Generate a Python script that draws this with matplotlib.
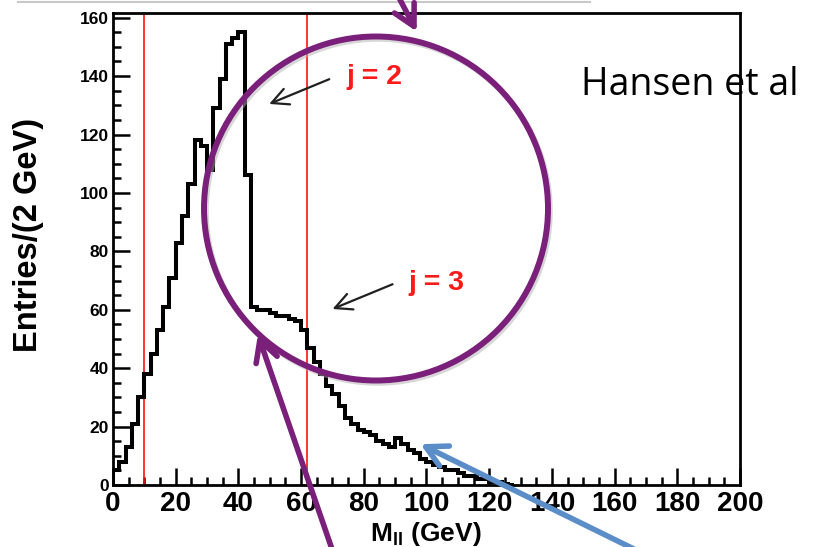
import numpy as np
import matplotlib
matplotlib.use('Agg')
import matplotlib.pyplot as plt
from matplotlib.patches import Ellipse, FancyArrowPatch
from matplotlib.lines import Line2D

# dilepton mass histogram, 2 GeV bins starting at 0
bin_width = 2
entries = [5, 8, 13, 21, 30, 38, 45, 53, 61, 71,
           83, 92, 103, 118, 116, 108, 129, 139, 151, 153,
           155, 106, 61, 60, 60, 59, 58, 58, 57, 56,
           53, 47, 42, 38, 34, 31, 27, 23, 21, 19,
           18, 17, 15, 14, 13, 16, 14, 12, 11, 9,
           8, 7, 6, 5, 5, 4, 3, 3, 2, 2,
           1, 1, 0.5, 0]
cut_lines = [10, 62]
x_ticks = list(range(0, 201, 20))
y_ticks = list(range(0, 161, 20))

edge_labels = ['j = 2', 'j = 3']
edge_text_pos = [(74.6, 139.7), (94.1, 69.2)]
edge_arrow_tail = [(69.8, 139.3), (90.0, 69.1)]
edge_arrow_tip = [(49.0, 130.1), (69.2, 59.9)]

W, H = 819, 547
plt.rcParams['font.family'] = ['Liberation Sans', 'DejaVu Sans']
plt.rcParams['mathtext.fontset'] = 'custom'
plt.rcParams['mathtext.rm'] = 'Liberation Sans:bold'
plt.rcParams['mathtext.bf'] = 'Liberation Sans:bold'


def fig_px(x, y):
    # slide pixel position -> figure fraction
    return (x / W, 1 - y / H)


fig = plt.figure(figsize=(W / 100, H / 100), dpi=100)
fig.patch.set_facecolor('white')
ax = fig.add_axes([113 / W, 1 - 485 / H, (740 - 113) / W, (485 - 13) / H])

edges = np.arange(len(entries) + 1) * bin_width
ax.stairs(entries, edges, color='black', lw=2.9, baseline=0, zorder=3)
for xc in cut_lines:
    ax.axvline(xc, color='#ff1010', lw=1.2, zorder=2)

ax.set_xlim(0, 200)
ax.set_ylim(0, 161.6)
ax.set_xticks(x_ticks)
ax.set_yticks(y_ticks)
ax.set_xticks(np.arange(0, 201, 5), minor=True)
ax.set_yticks(np.arange(0, 161, 5), minor=True)
ax.tick_params(which='both', direction='in', width=1.8, top=False, right=False)
ax.tick_params(which='major', length=12)
ax.tick_params(which='minor', length=6)
ax.tick_params(axis='x', labelsize=20, pad=4)
ax.tick_params(axis='y', labelsize=12.5, pad=3)
for lab in ax.get_xticklabels() + ax.get_yticklabels():
    lab.set_fontweight('bold')
for sp in ax.spines.values():
    sp.set_linewidth(2)

fig.text(*fig_px(426, 534), r'$\mathbf{M_{ll}}$ (GeV)', ha='center', va='center',
         fontsize=19, fontweight='bold')
fig.text(*fig_px(28, 235), 'Entries/(2 GeV)', rotation=90, ha='center', va='center',
         fontsize=23.5, fontweight='bold')

for lab, tp, tail, tip in zip(edge_labels, edge_text_pos, edge_arrow_tail, edge_arrow_tip):
    ax.text(tp[0], tp[1], lab, color='#ff1a1a', fontsize=20.5, fontweight='bold',
            ha='left', va='center', zorder=4)
    ax.annotate('', xy=tip, xytext=tail,
                arrowprops=dict(arrowstyle='->,head_length=0.6,head_width=0.3',
                                mutation_scale=20, lw=1.6, color='#202020'))

# slide text, under the frame line
ax.text(*fig_px(581, 95), 'Hansen et al', transform=fig.transFigure, fontsize=27,
        family='Open Sans', ha='left', va='baseline', clip_on=False, zorder=2)

# slide decorations
purple = '#7a1f7a'
fig.add_artist(Line2D([18 / W, 590 / W], [1 - 1.5 / H] * 2, color='#c8c8c8', lw=1.5))
fig.add_artist(Ellipse(fig_px(378, 211), 2 * 172 / W, 2 * 172 / H, fill=False,
                       ec='#b0b0b0', lw=4, alpha=0.5, zorder=4))
fig.add_artist(Ellipse(fig_px(376, 208.5), 2 * 172 / W, 2 * 172 / H, fill=False,
                       ec=purple, lw=4.3, zorder=5))
arrows = [((396, -8), (418, 34), purple),
          ((333, 552), (257, 332), purple),
          ((640, 552), (418, 443), '#5b8ec9')]
for tail, tip, col in arrows:
    fig.add_artist(FancyArrowPatch(fig_px(*tail), fig_px(*tip), transform=fig.transFigure,
                                   arrowstyle='->,head_length=0.75,head_width=0.4',
                                   mutation_scale=20, lw=4, color=col, zorder=6))

fig.savefig('out.png', dpi=100)
